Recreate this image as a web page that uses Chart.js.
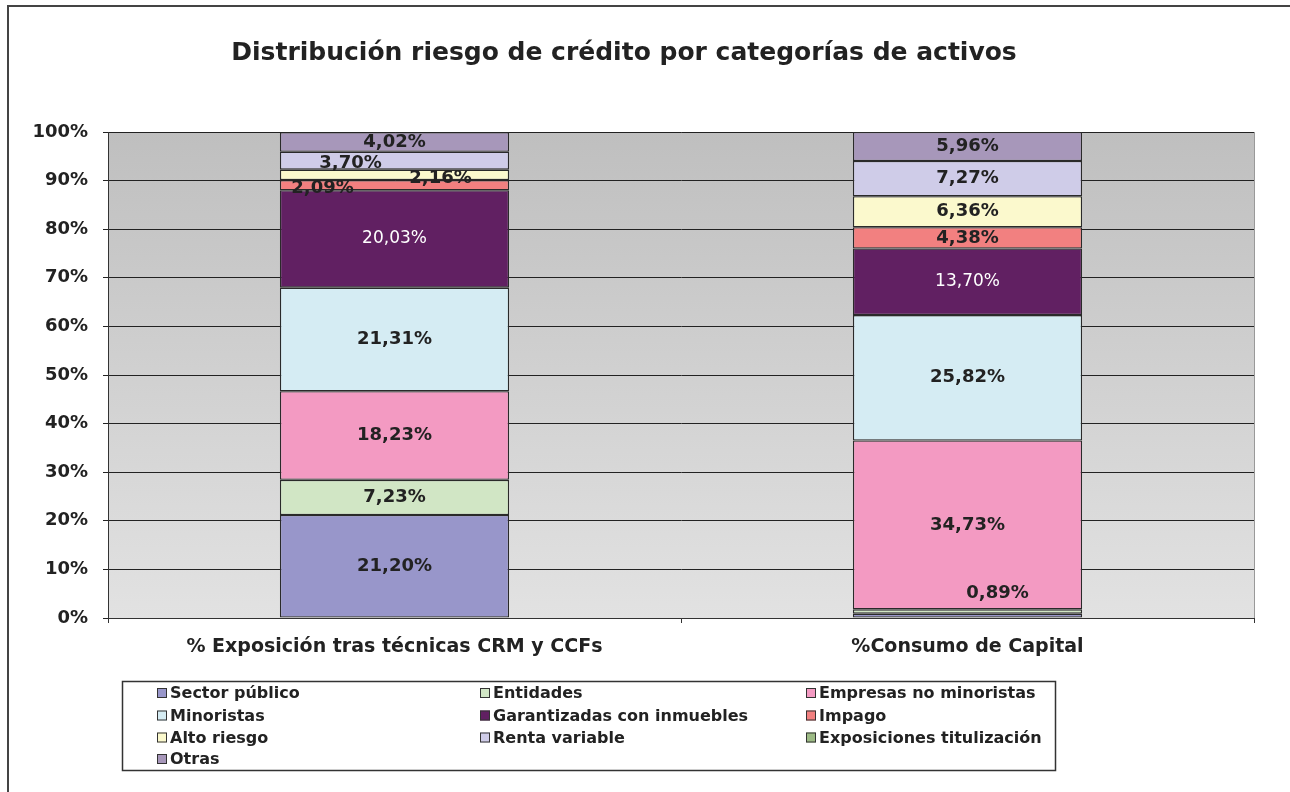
<!DOCTYPE html>
<html>
<head>
<meta charset="utf-8">
<script src="https://cdn.jsdelivr.net/npm/chart.js@4.4.1/dist/chart.umd.min.js"></script>
<style>
  html, body { margin: 0; padding: 0; background: #fff; overflow: hidden; }
  canvas { display: block; }
</style>
</head>
<body>
<canvas id="chart" width="1290" height="792"></canvas>
<script>
// datos
const categorias = ['% Exposición tras técnicas CRM y CCFs', '%Consumo de Capital'];
const series = ['Sector público', 'Entidades', 'Empresas no minoristas', 'Minoristas',
    'Garantizadas con inmuebles', 'Impago', 'Alto riesgo', 'Renta variable',
    'Exposiciones titulización', 'Otras'];

const sectorPublico = [21.20, 0.89];
const entidades = [7.23, 0.89];
const empresasNoMinoristas = [18.23, 34.73];
const minoristas = [21.31, 25.82];
const garantizadas = [20.03, 13.70];
const impago = [2.09, 4.38];
const altoRiesgo = [2.16, 6.36];
const rentaVariable = [3.70, 7.27];
const titulizacion = [0, 0];
const otras = [4.02, 5.96];

const yTicks = [0, 10, 20, 30, 40, 50, 60, 70, 80, 90, 100];

const valores = [sectorPublico, entidades, empresasNoMinoristas, minoristas,
    garantizadas, impago, altoRiesgo, rentaVariable, titulizacion, otras];

const colores = ['#9896CA', '#D1E6C5', '#F39AC2', '#D5ECF3', '#612062',
    '#F28080', '#FBF9CD', '#CFCCE8', '#9DBB85', '#A797BA'];

const FONT = '"DejaVu Sans", Verdana, sans-serif';
const TXT = '#222';

// etiquetas que no se muestran y desplazamientos (como en el original)
const ocultas = ['0-1', '8-0', '8-1'];
const desplaz = {
    '5-0': [-72, 3],
    '6-0': [46, 3],
    '7-0': [-44, 3],
    '1-1': [30, -18]
};

function fmt(v) {
    return v.toFixed(2).replace('.', ',') + '%';
}

const fondo = {
    id: 'fondo',
    beforeDraw(chart) {
        const ctx = chart.ctx;
        const a = chart.chartArea;
        ctx.save();
        // marco exterior
        ctx.strokeStyle = '#444';
        ctx.lineWidth = 2;
        ctx.beginPath();
        ctx.moveTo(8, 800);
        ctx.lineTo(8, 6);
        ctx.lineTo(1300, 6);
        ctx.stroke();
        // degradado del área
        const g = ctx.createLinearGradient(0, a.top, 0, a.bottom);
        g.addColorStop(0, '#BFBFBF');
        g.addColorStop(1, '#E2E2E2');
        ctx.fillStyle = g;
        ctx.fillRect(a.left, a.top, a.right - a.left, a.bottom - a.top);
        ctx.strokeStyle = '#999';
        ctx.lineWidth = 1;
        ctx.beginPath();
        ctx.moveTo(a.right + 0.5, a.top);
        ctx.lineTo(a.right + 0.5, a.bottom);
        ctx.moveTo(a.left, a.top + 0.5);
        ctx.lineTo(a.right, a.top + 0.5);
        ctx.stroke();
        // título
        ctx.fillStyle = TXT;
        ctx.font = 'bold 25px ' + FONT;
        ctx.textAlign = 'center';
        ctx.textBaseline = 'middle';
        ctx.fillText('Distribución riesgo de crédito por categorías de activos', 624, 53);
        ctx.restore();
    }
};

const etiquetas = {
    id: 'etiquetas',
    afterDatasetsDraw(chart) {
        const ctx = chart.ctx;
        ctx.save();
        ctx.textAlign = 'center';
        ctx.textBaseline = 'middle';
        chart.data.datasets.forEach((ds, di) => {
            const meta = chart.getDatasetMeta(di);
            meta.data.forEach((el, i) => {
                const key = di + '-' + i;
                if (ocultas.includes(key) || !ds.data[i]) return;
                const d = desplaz[key] || [0, 0];
                const blanco = di === 4;
                ctx.fillStyle = blanco ? '#fff' : TXT;
                ctx.font = (blanco ? 'normal 17px ' : 'bold 18px ') + FONT;
                ctx.fillText(fmt(ds.data[i]), el.x + d[0], (el.y + el.base) / 2 + d[1]);
            });
        });
        ctx.restore();
    }
};

const leyenda = {
    id: 'leyenda',
    afterDraw(chart) {
        const ctx = chart.ctx;
        const cols = [157, 480, 806];
        const filas = [693, 715.5, 737.5, 759];
        ctx.save();
        ctx.strokeStyle = '#333';
        ctx.lineWidth = 1.5;
        ctx.strokeRect(122.5, 681.5, 933, 89);
        ctx.font = 'bold 16px ' + FONT;
        ctx.textAlign = 'left';
        ctx.textBaseline = 'middle';
        chart.data.datasets.forEach((ds, i) => {
            const x = cols[i % 3];
            const y = filas[Math.floor(i / 3)];
            ctx.fillStyle = ds.backgroundColor;
            ctx.fillRect(x, y - 5, 10, 10);
            ctx.strokeStyle = '#333';
            ctx.lineWidth = 1;
            ctx.strokeRect(x + 0.5, y - 4.5, 9, 9);
            ctx.fillStyle = TXT;
            ctx.fillText(ds.label, x + 13, y + 1);
        });
        ctx.restore();
    }
};

const datasets = series.map((nombre, i) => ({
    label: nombre,
    data: valores[i],
    backgroundColor: colores[i],
    borderColor: '#2a2a2a',
    borderWidth: 1.3,
    borderSkipped: false,
    barPercentage: 0.4,
    categoryPercentage: 1
}));

new Chart(document.getElementById('chart'), {
    type: 'bar',
    data: { labels: categorias, datasets: datasets },
    options: {
        responsive: false,
        animation: false,
        layout: { padding: { left: 8, top: 132, right: 36, bottom: 124 } },
        plugins: {
            legend: { display: false },
            title: { display: false },
            tooltip: { enabled: false }
        },
        scales: {
            x: {
                stacked: true,
                afterFit(scale) { scale.height = 50; },
                grid: { drawOnChartArea: false, drawTicks: true, tickLength: 5, color: '#333' },
                border: { color: '#333', width: 1 },
                ticks: {
                    color: TXT,
                    padding: 13,
                    font: { family: FONT, size: 19, weight: 'bold' }
                }
            },
            y: {
                stacked: true,
                min: 0,
                max: 100,
                afterFit(scale) { scale.width = 100; },
                afterBuildTicks(scale) { scale.ticks = yTicks.map(v => ({ value: v })); },
                grid: { color: '#222', lineWidth: 1, drawTicks: true, tickLength: 5 },
                border: { color: '#333', width: 1 },
                ticks: {
                    color: TXT,
                    padding: 15,
                    font: { family: FONT, size: 18, weight: 'bold' },
                    callback: v => v + '%'
                }
            }
        }
    },
    plugins: [fondo, etiquetas, leyenda]
});
</script>
</body>
</html>
